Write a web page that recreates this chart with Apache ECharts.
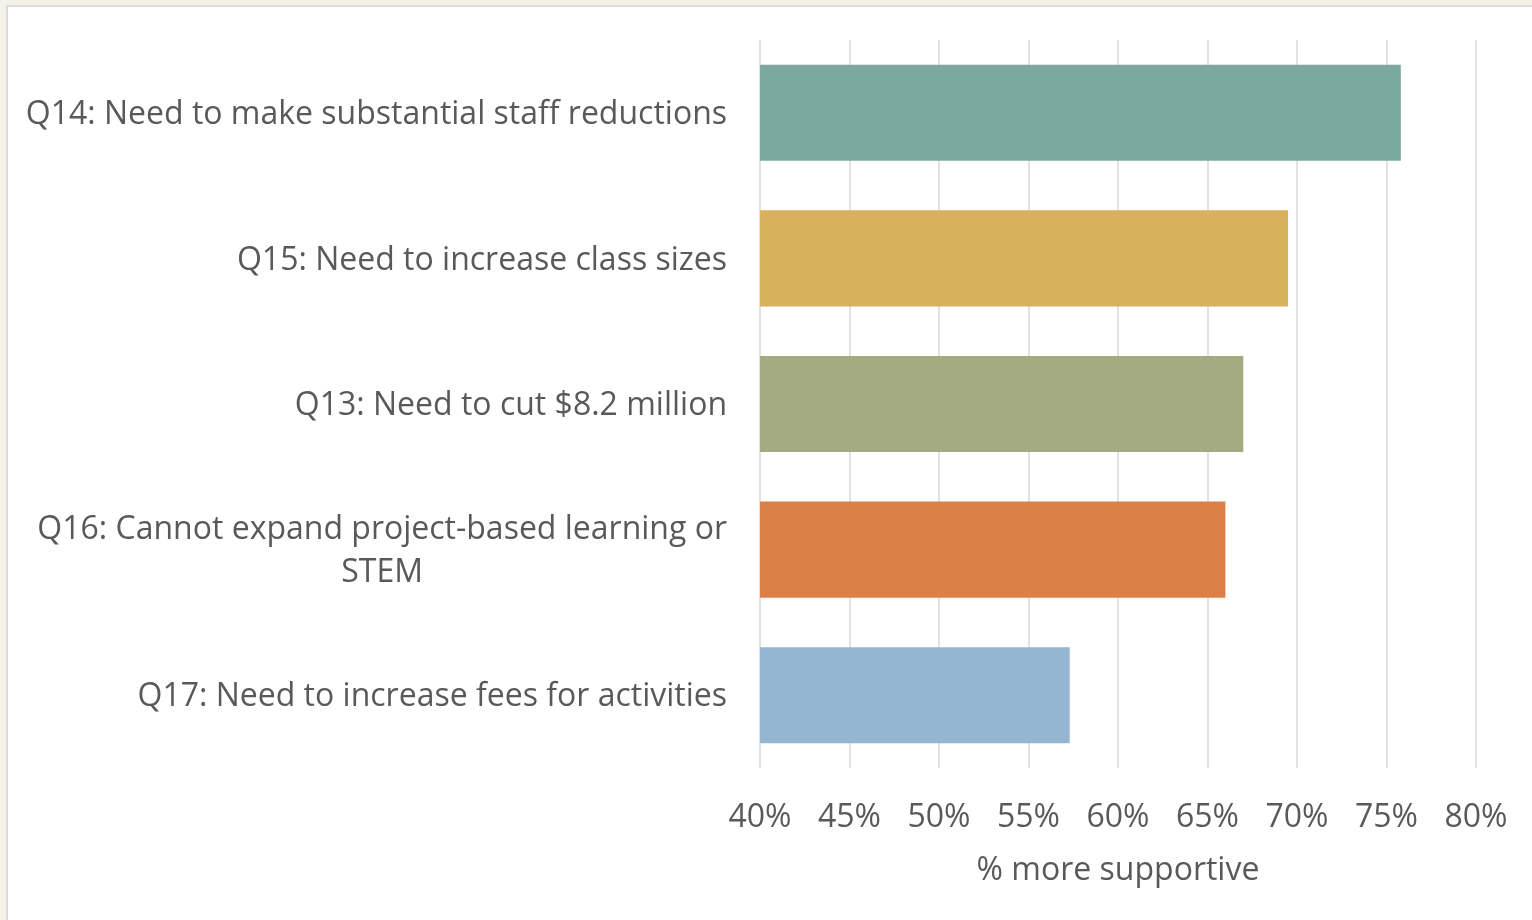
<!DOCTYPE html>
<html>
<head>
<meta charset="utf-8">
<script src="https://cdn.jsdelivr.net/npm/echarts@6/dist/echarts.min.js"></script>
<style>
  html, body { margin: 0; padding: 0; background: #f4f1ea; }
  #frame { position: absolute; left: 6px; top: 5px; right: 0; bottom: 0; background: #fff;
           border-left: 2px solid #dcdcdc; border-top: 2px solid #dcdcdc; }
  #chart { position: absolute; left: 0; top: 0; width: 1532px; height: 920px; }
</style>
</head>
<body>
<div id="frame"></div>
<div id="chart"></div>
<script>
// survey questions, top to bottom
var categories = [
  'Q14: Need to make substantial staff reductions',
  'Q15: Need to increase class sizes',
  'Q13: Need to cut $8.2 million',
  'Q16: Cannot expand project-based learning or\nSTEM',
  'Q17: Need to increase fees for activities'
];
// % more supportive
var values = [75.8, 69.5, 67.0, 66.0, 57.3];
var barColors = ['#7aa89c', '#d8b15f', '#a4ab80', '#dd8048', '#94b6d3'];

var textColor = '#595959';
var font = '"Open Sans", "Noto Sans", sans-serif';
var fontSize = 32;

var chart = echarts.init(document.getElementById('chart'));

var option = {
  backgroundColor: 'transparent',
  animation: false,
  grid: {
    left: 760,
    right: 56,
    top: 40,
    bottom: 152,
    containLabel: false
  },
  xAxis: {
    type: 'value',
    min: 40,
    max: 80,
    interval: 5,
    axisLine: { show: false },
    axisTick: { show: false },
    splitLine: { lineStyle: { color: '#d9d9d9', width: 1.5 } },
    axisLabel: {
      formatter: '{value}%',
      color: textColor,
      fontFamily: font,
      fontSize: fontSize,
      margin: 34
    },
    name: '% more supportive',
    nameLocation: 'middle',
    nameGap: 87,
    nameTextStyle: { color: textColor, fontFamily: font, fontSize: fontSize }
  },
  yAxis: {
    type: 'category',
    inverse: true,
    data: categories,
    axisLine: { show: false },
    axisTick: { show: false },
    splitLine: { show: false },
    axisLabel: {
      margin: 33,
      padding: [4, 0, 0, 0],
      color: textColor,
      fontFamily: font,
      fontSize: fontSize,
      lineHeight: 43,
      formatter: function (v) {
        // centre each line of a wrapped label, block stays right-aligned
        return v.split('\n').map(function (s) { return '{c|' + s + '}'; }).join('\n');
      },
      rich: {
        c: { align: 'center', color: textColor, fontFamily: font, fontSize: fontSize, lineHeight: 43 }
      }
    }
  },
  series: [{
    type: 'bar',
    barCategoryGap: '34%',
    data: values.map(function (v, i) {
      return { value: v, itemStyle: { color: barColors[i] } };
    })
  }]
};

chart.setOption(option);
</script>
</body>
</html>
